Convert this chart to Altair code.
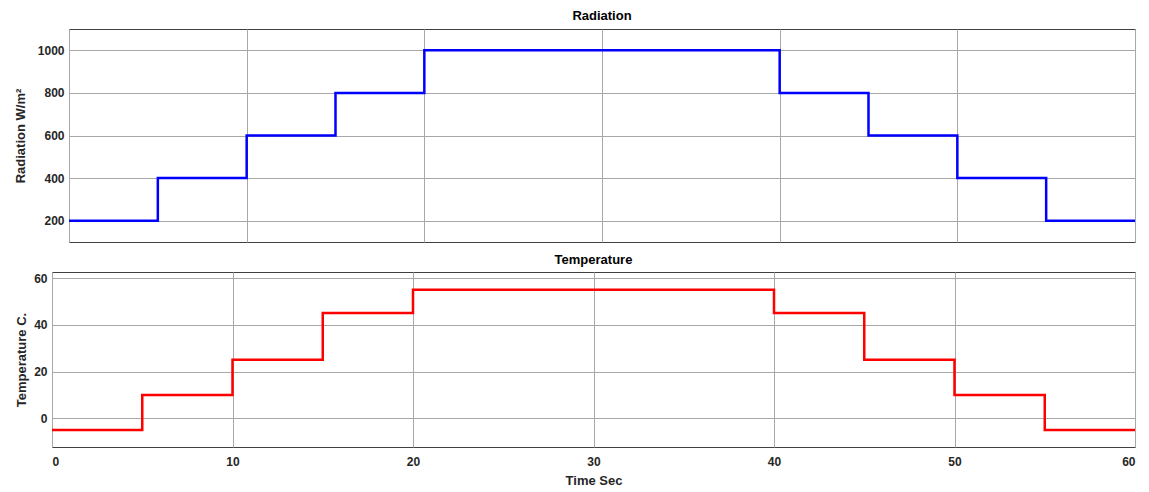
import altair as alt
import pandas as pd

time_s = [0, 5, 10, 15, 20, 40, 45, 50, 55, 60]
radiation = [200, 400, 600, 800, 1000, 800, 600, 400, 200, 200]
temperature = [-5, 10, 25, 45, 55, 45, 25, 10, -5, -5]
x_ticks = [0, 10, 20, 30, 40, 50, 60]
rad_ticks = [200, 400, 600, 800, 1000]
temp_ticks = [0, 20, 40, 60]

df = pd.DataFrame({"t": time_s, "rad": radiation, "temp": temperature})

FONT = "Liberation Sans"

top = alt.Chart(df).mark_line(
    interpolate="step-after", color="#0000ff", strokeWidth=2.5, clip=True
).encode(
    x=alt.X("t:Q", scale=alt.Scale(domain=[0, 60], nice=False, zero=False),
            axis=alt.Axis(values=x_ticks, labels=False, ticks=False, title=None)),
    y=alt.Y("rad:Q", scale=alt.Scale(domain=[100, 1100], nice=False, zero=False),
            axis=alt.Axis(values=rad_ticks, format="d", title="Radiation W/m²",
                          titlePadding=10)),
).properties(
    width=1066, height=213,
    title=alt.TitleParams("Radiation", offset=6),
)

spacer = alt.Chart(df).mark_point(opacity=0).encode(
    x=alt.X("t:Q", axis=None),
    y=alt.Y("rad:Q", axis=None),
).properties(width=1, height=213, view=alt.ViewBackground(stroke=None))

top_row = alt.HConcatChart(hconcat=[spacer, top], spacing=16, bounds="flush")

bottom = alt.Chart(df).mark_line(
    interpolate="step-after", color="#ff0000", strokeWidth=2.5, clip=True
).encode(
    x=alt.X("t:Q", scale=alt.Scale(domain=[0, 60], nice=False, zero=False),
            axis=alt.Axis(values=x_ticks, title="Time Sec", labelPadding=9,
                          titlePadding=7)),
    y=alt.Y("temp:Q", scale=alt.Scale(domain=[-12.3, 62.6], nice=False, zero=False),
            axis=alt.Axis(values=temp_ticks, title="Temperature C.", titlePadding=5)),
).properties(
    width=1083, height=175,
    title=alt.TitleParams("Temperature", offset=5),
)

chart = alt.VConcatChart(
    vconcat=[top_row, bottom], spacing=10
).properties(
    padding={"left": 5, "top": 1, "right": 0, "bottom": 0},
    background="white",
).configure_view(
    stroke="#404040", strokeWidth=1
).configure_axis(
    labelFont=FONT, labelFontSize=12, labelFontWeight="bold", labelColor="#262626",
    titleFont=FONT, titleFontSize=13, titleFontWeight="bold", titleColor="#262626",
    gridColor="#a8a8a8", gridWidth=1, gridOpacity=1, domain=False, ticks=False,
    labelPadding=5,
).configure_title(
    font=FONT, fontSize=13, fontWeight="bold", color="#000000", anchor="middle",
)

chart.save("out.html", embed_options={"renderer": "svg", "actions": False})
